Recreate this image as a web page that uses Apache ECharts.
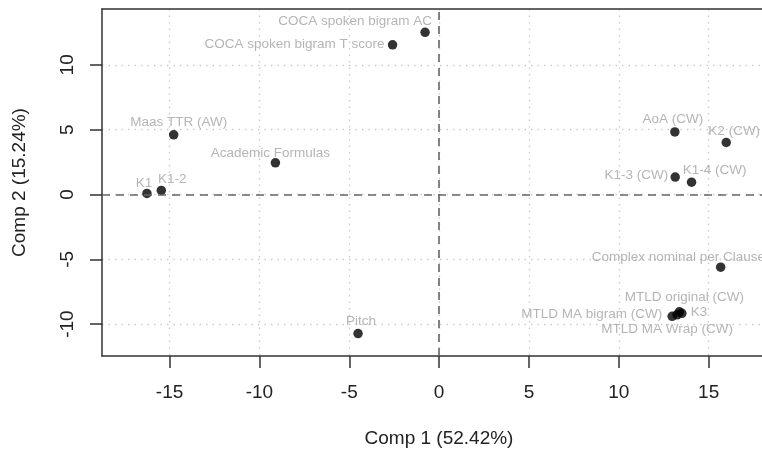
<!DOCTYPE html>
<html>
<head>
<meta charset="utf-8">
<script src="https://cdn.jsdelivr.net/npm/echarts@6/dist/echarts.min.js"></script>
<style>
  html, body { margin: 0; padding: 0; background: #fff; }
  #chart { width: 762px; height: 453px; }
</style>
</head>
<body>
<div id="chart"></div>
<script>
// PCA loadings
const names = [
  'COCA spoken bigram AC', 'COCA spoken bigram T score', 'Maas TTR (AW)',
  'Academic Formulas', 'K1', 'K1-2', 'AoA (CW)', 'K2 (CW)', 'K1-3 (CW)',
  'K1-4 (CW)', 'Pitch', 'Complex nominal per Clause', 'MTLD original (CW)',
  'MTLD MA bigram (CW)', 'K3', 'MTLD MA Wrap (CW)'
]
const comp1 = [-0.78, -2.59, -14.77, -9.11, -16.26, -15.46, 13.12, 15.98, 13.14,
  14.05, -4.51, 15.67, 13.37, 12.97, 13.51, 13.24]
const comp2 = [12.51, 11.55, 4.60, 2.44, 0.08, 0.31, 4.83, 4.01, 1.34,
  0.95, -10.73, -5.61, -9.05, -9.40, -9.17, -9.28]

const xTicks = [-15, -10, -5, 0, 5, 10, 15]
const yTicks = [-10, -5, 0, 5, 10]

// where each text label sits relative to its dot: [align, dx, dy]
const labelPlace = {
  'COCA spoken bigram AC': ['right', 7, -11],
  'COCA spoken bigram T score': ['right', -8, 0],
  'Maas TTR (AW)': ['center', 5, -13],
  'Academic Formulas': ['center', -5, -10],
  'K1': ['center', -3, -10],
  'K1-2': ['center', 11, -11],
  'AoA (CW)': ['center', -2, -13],
  'K2 (CW)': ['center', 8, -11],
  'K1-3 (CW)': ['right', -7, -2],
  'K1-4 (CW)': ['center', 23, -12],
  'Pitch': ['center', 3, -12],
  'Complex nominal per Clause': ['left', -129, -10],
  'MTLD original (CW)': ['center', 5, -15],
  'MTLD MA bigram (CW)': ['right', -10, -2],
  'K3': ['left', 9, -1],
  'MTLD MA Wrap (CW)': ['center', -10, 15]
}

const dotSize = 9.5
const points = names.map((n, i) => {
  const p = labelPlace[n]
  return {
    name: n,
    value: [comp1[i], comp2[i]],
    label: { align: p[0], position: [dotSize / 2 + p[1], dotSize / 2 + p[2]] }
  }
})

const font = '"Liberation Sans", Arial, Helvetica, sans-serif'
const gridLine = { show: true, lineStyle: { color: '#cbcbcb', type: [1.5, 5], width: 1.3 } }
const frame = { show: true, onZero: false, lineStyle: { color: '#333', width: 1.5 } }
const xMin = -18.76, xMax = 17.97

const chart = echarts.init(document.getElementById('chart'))
chart.setOption({
  animation: false,
  grid: { left: 102, top: 9, right: 0, bottom: 97 },
  xAxis: [{
    type: 'value',
    min: xMin,
    max: xMax,
    minInterval: 5,
    maxInterval: 5,
    name: 'Comp 1 (52.42%)',
    nameLocation: 'middle',
    nameGap: 73,
    nameTextStyle: { fontFamily: font, fontSize: 19, color: '#222', padding: [0, 0, 0, 14] },
    axisLine: frame,
    axisTick: { show: true, length: 12, customValues: xTicks, lineStyle: { color: '#333', width: 1.5 } },
    axisLabel: { customValues: xTicks, margin: 27, fontFamily: font, fontSize: 19, color: '#222' },
    splitLine: gridLine
  }, {
    // top edge of the box
    type: 'value',
    position: 'top',
    min: xMin,
    max: xMax,
    axisLine: frame,
    axisTick: { show: false },
    axisLabel: { show: false },
    splitLine: { show: false }
  }],
  yAxis: {
    type: 'value',
    min: -12.46,
    max: 14.31,
    minInterval: 5,
    maxInterval: 5,
    name: 'Comp 2 (15.24%)',
    nameLocation: 'middle',
    nameGap: 73,
    nameTextStyle: { fontFamily: font, fontSize: 19, color: '#222' },
    axisLine: frame,
    axisTick: { show: true, length: 12, customValues: yTicks, lineStyle: { color: '#333', width: 1.5 } },
    axisLabel: { customValues: yTicks, rotate: 90, margin: 25, fontFamily: font, fontSize: 19, color: '#222' },
    splitLine: gridLine
  },
  series: [{
    type: 'scatter',
    data: points,
    symbolSize: dotSize,
    itemStyle: { color: '#000' },
    label: {
      show: true,
      formatter: '{b}',
      fontFamily: font,
      fontSize: 13.5,
      color: '#a3a3a3',
      verticalAlign: 'middle'
    },
    labelLayout: { hideOverlap: false },
    markLine: {
      silent: true,
      symbol: 'none',
      label: { show: false },
      lineStyle: { color: '#666', type: [8, 6], width: 1.6 },
      data: [{ xAxis: 0 }, { yAxis: 0 }]
    }
  }]
})
</script>
</body>
</html>
